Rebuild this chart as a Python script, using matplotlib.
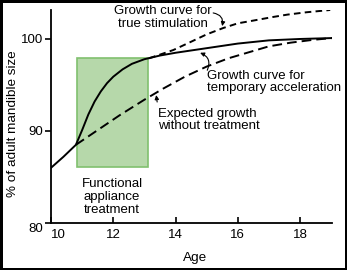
import matplotlib
matplotlib.use("Agg")
import matplotlib.pyplot as plt
from matplotlib.patches import Rectangle

plt.rcParams['font.family'] = ['Liberation Sans', 'DejaVu Sans']

# Data
solid_x = [10.0, 10.4, 10.8, 11.0, 11.2, 11.4, 11.6, 11.8, 12.0, 12.3, 12.6, 13.0, 13.5, 14.0, 15.0, 16.0, 17.0, 18.0, 19.03]
solid_y = [86.0, 87.2, 88.5, 90.1, 91.8, 93.2, 94.3, 95.2, 95.9, 96.7, 97.3, 97.8, 98.2, 98.5, 99.0, 99.5, 99.85, 100.0, 100.1]

expected_x = [10.8, 11.5, 12.2, 13.0, 13.6, 14.3, 15.0, 15.7, 16.4, 17.0, 17.7, 18.4, 19.03]
expected_y = [88.5, 90.1, 91.7, 93.4, 94.6, 95.9, 97.0, 97.9, 98.6, 99.2, 99.6, 99.9, 100.1]

stim_x = [13.15, 13.5, 13.93, 14.5, 15.0, 15.54, 16.0, 16.5, 17.15, 17.6, 18.2, 18.97]
stim_y = [97.9, 98.3, 98.8, 99.7, 100.5, 101.2, 101.7, 102.0, 102.4, 102.65, 102.9, 103.15]

box_x = [10.82, 13.12]
box_y = [86.05, 97.9]

x_ticks = [10, 12, 14, 16, 18]
y_ticks = [80, 90, 100]

fig = plt.figure(figsize=(3.47, 2.70), dpi=100, edgecolor='black', linewidth=2.2)
ax = fig.add_axes([0.147, 0.174, 0.81, 0.789])

ax.add_patch(Rectangle((box_x[0], box_y[0]), box_x[1] - box_x[0], box_y[1] - box_y[0],
                       facecolor='#b6d8aa', edgecolor='#80c06e', linewidth=1.2, zorder=1))

ax.plot(solid_x, solid_y, color='black', lw=1.4, zorder=3)
l1, = ax.plot(expected_x, expected_y, color='black', lw=1.4, zorder=3)
l1.set_dashes((5, 2.6))
l2, = ax.plot(stim_x, stim_y, color='black', lw=1.4, zorder=3)
l2.set_dashes((3.4, 2.2))

ax.set_xlim(10, 19.03)
ax.set_ylim(80, 103.15)
ax.set_xticks(x_ticks)
ax.set_yticks(y_ticks)
ax.set_xticklabels([str(t) for t in x_ticks])
ax.set_yticklabels([str(t) for t in y_ticks])
for s in ['top', 'right']:
    ax.spines[s].set_visible(False)
for s in ['left', 'bottom']:
    ax.spines[s].set_linewidth(1.3)
ax.tick_params(axis='x', direction='in', length=4, width=1.2, labelsize=9.5, pad=4)
ax.tick_params(axis='y', direction='out', length=4, width=1.2, labelsize=9.5, pad=1.5)
xl = ax.get_xticklabels()
xl[0].set_ha('left')
yl = ax.get_yticklabels()
yl[0].set_va('top')

ax.set_xlabel('Age', fontsize=9.7)
ax.xaxis.set_label_coords(0.512, -0.135)
ax.set_ylabel('% of adult mandible size', fontsize=9.7)
ax.yaxis.set_label_coords(-0.115, 0.465)

fs = 9.5
ax.text(13.6, 102.3, 'Growth curve for\ntrue stimulation', ha='center', va='center', fontsize=fs, linespacing=1.1)
ax.text(15.02, 95.33, 'Growth curve for\ntemporary acceleration', ha='left', va='center', fontsize=fs, linespacing=1.1)
ax.text(13.44, 91.2, 'Expected growth\nwithout treatment', ha='left', va='center', fontsize=fs, linespacing=1.1)
ax.text(11.96, 82.8, 'Functional\nappliance\ntreatment', ha='center', va='center', fontsize=fs, linespacing=1.1)

aprops = dict(arrowstyle='-|>', color='black', lw=0.8, mutation_scale=6, shrinkA=0, shrinkB=0)
ax.annotate('', xy=(15.5, 101.4), xytext=(15.21, 102.83),
            arrowprops=dict(aprops, connectionstyle='arc3,rad=-0.5'))
ax.annotate('', xy=(14.79, 98.5), xytext=(15.02, 96.6),
            arrowprops=dict(aprops, connectionstyle='arc3,rad=0.5'))
ax.annotate('', xy=(13.38, 93.9), xytext=(13.41, 93.15),
            arrowprops=dict(aprops, connectionstyle='arc3,rad=0.0'))

fig.savefig('out.png', dpi=100)
